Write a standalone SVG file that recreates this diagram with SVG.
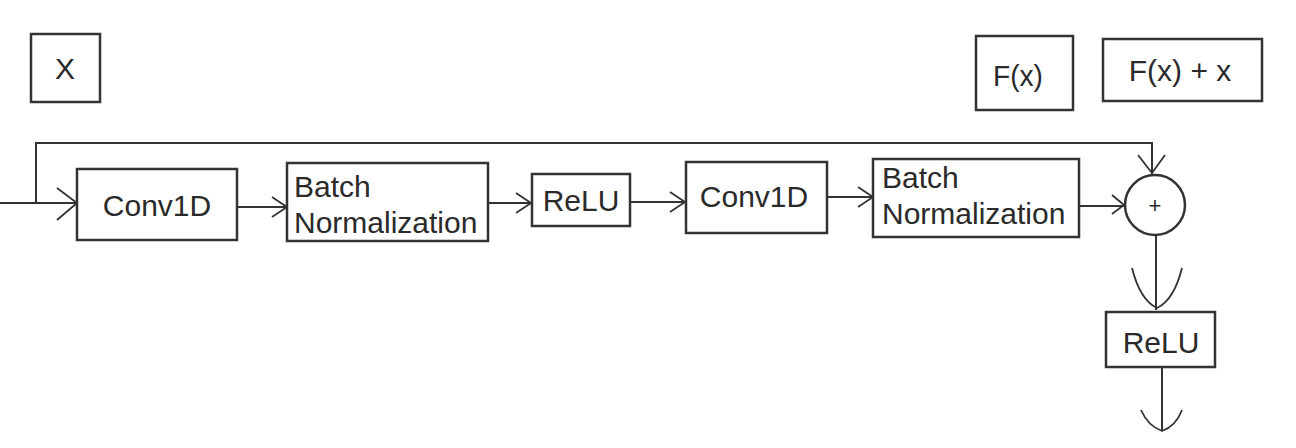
<svg xmlns="http://www.w3.org/2000/svg" width="1296" height="448" viewBox="0 0 1296 448">
<defs>
<style>
.box{fill:#fff;stroke:#333;stroke-width:2.5}
.ln{fill:none;stroke:#333;stroke-width:2}
.ah{fill:none;stroke:#333;stroke-width:1.8;stroke-linejoin:miter}
text{font-family:"Liberation Sans",Arial,sans-serif;font-size:30px;fill:#2a2a2a}
.c{text-anchor:middle}
</style>
<marker id="v" markerUnits="userSpaceOnUse" viewBox="-20 -15 22 30" refX="0" refY="0" markerWidth="22" markerHeight="30" orient="auto" overflow="visible">
<path d="M-15,-10 L0,0 L-15,10" fill="none" stroke="#333" stroke-width="1.8"/>
</marker>
</defs>
<rect width="1296" height="448" fill="#fff"/>
<g id="label-x"><rect class="box" x="31" y="34" width="69" height="68"/><text class="c" x="65" y="79">X</text></g>
<g id="label-fx"><rect class="box" x="976" y="36" width="97" height="74"/><text class="c" x="1018" y="86" textLength="50" lengthAdjust="spacingAndGlyphs">F(x)</text></g>
<g id="label-fxx"><rect class="box" x="1103" y="39" width="159" height="62"/><text class="c" x="1180" y="81">F(x) + x</text></g>
<g id="connectors">
<path class="ln" d="M0,203 H77"/>
<path class="ln" d="M36,203 V143 H1152 V174"/>
<path class="ah" d="M57,188 L77,203 L57,220"/>
<path class="ah" d="M1138,155 L1152,173 L1165,155"/>
<path class="ln" d="M237,207 H287" marker-end="url(#v)"/>
<path class="ln" d="M488,203 H531" marker-end="url(#v)"/>
<path class="ln" d="M630,202 H685" marker-end="url(#v)"/>
<path class="ln" d="M827,197 H873" marker-end="url(#v)"/>
<path class="ln" d="M1079,206 H1124"/>
<path class="ah" d="M1112,195 L1124,205 L1112,214"/>
<path class="ln" d="M1156,235 V310"/>
<path class="ah" d="M1132,268 Q1140,300 1157,308 Q1174,300 1182,268"/>
<path class="ln" d="M1162,367 V430"/>
<path class="ah" d="M1141,410 Q1148,426 1162,431 Q1176,426 1182,410"/>
</g>
<g id="conv1"><rect class="box" x="77" y="169" width="160" height="71"/><text class="c" x="157" y="216">Conv1D</text></g>
<g id="bn1"><rect class="box" x="287" y="163" width="201" height="78"/><text x="294" y="197">Batch</text><text x="294" y="233">Normalization</text></g>
<g id="relu1"><rect class="box" x="532" y="174" width="98" height="52"/><text class="c" x="581" y="211">ReLU</text></g>
<g id="conv2"><rect class="box" x="686" y="162" width="141" height="71"/><text class="c" x="754" y="207">Conv1D</text></g>
<g id="bn2"><rect class="box" x="873" y="159" width="206" height="78"/><text x="882" y="188">Batch</text><text x="882" y="224">Normalization</text></g>
<g id="add"><circle class="box" cx="1155" cy="205" r="30"/><text class="c" x="1155" y="213" style="font-size:22px">+</text></g>
<g id="relu2"><rect class="box" x="1106" y="312" width="109" height="55"/><text class="c" x="1161" y="353">ReLU</text></g>
</svg>
